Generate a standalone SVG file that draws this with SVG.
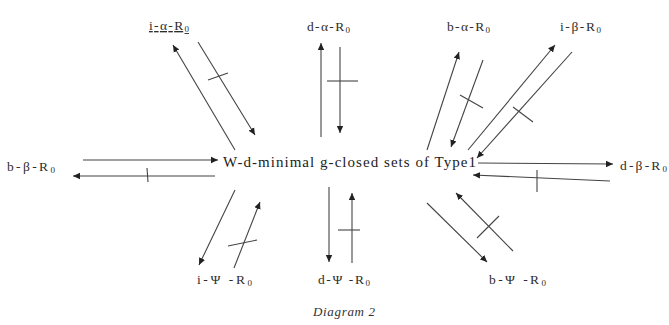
<svg xmlns="http://www.w3.org/2000/svg" width="669" height="325" viewBox="0 0 669 325">
<style>
  .lbl { font-family: "Liberation Serif", "Times New Roman", serif; font-size: 13.5px; fill: #2e2e2e; }
  .main { font-family: "Liberation Serif", "Times New Roman", serif; font-size: 15px; fill: #222; }
  .cap { font-family: "Liberation Serif", "Times New Roman", serif; font-size: 13px; font-style: italic; fill: #333; }
  .sub { font-size: 9px; }
  .c line { stroke: #444; stroke-width: 1.1; fill: none; }
  .c line.a { marker-end: url(#ah); }
</style>
<defs>
  <marker id="ah" markerUnits="userSpaceOnUse" markerWidth="8" markerHeight="8" viewBox="0 0 8 8" refX="7" refY="4" orient="auto">
    <path d="M0,0.8 L7,4 L0,7.2 Z" fill="#222"/>
  </marker>
</defs>
<rect width="669" height="325" fill="#ffffff"/>

<g id="center"><text class="main" x="223" y="167" textLength="253" lengthAdjust="spacing">W-d-minimal g-closed sets of Type1</text></g>
<g id="i-alpha"><text class="lbl" x="149" y="30" textLength="40" lengthAdjust="spacing" text-decoration="underline">i-α-R<tspan class="sub" dy="2">0</tspan></text></g>
<g id="d-alpha"><text class="lbl" x="307" y="31" textLength="43" lengthAdjust="spacing">d-α-R<tspan class="sub" dy="2">0</tspan></text></g>
<g id="b-alpha"><text class="lbl" x="447" y="31" textLength="43" lengthAdjust="spacing">b-α-R<tspan class="sub" dy="2">0</tspan></text></g>
<g id="i-beta"><text class="lbl" x="560" y="31" textLength="41" lengthAdjust="spacing">i-β-R<tspan class="sub" dy="2">0</tspan></text></g>
<g id="b-beta"><text class="lbl" x="7" y="171" textLength="48" lengthAdjust="spacing">b-β-R<tspan class="sub" dy="2">0</tspan></text></g>
<g id="d-beta"><text class="lbl" x="620" y="170" textLength="47" lengthAdjust="spacing">d-β-R<tspan class="sub" dy="2">0</tspan></text></g>
<g id="i-psi"><text class="lbl" x="197" y="284" textLength="55" lengthAdjust="spacing">i-Ψ -R<tspan class="sub" dy="2">0</tspan></text></g>
<g id="d-psi"><text class="lbl" x="318" y="284" textLength="52" lengthAdjust="spacing">d-Ψ -R<tspan class="sub" dy="2">0</tspan></text></g>
<g id="b-psi"><text class="lbl" x="489" y="284" textLength="57" lengthAdjust="spacing">b-Ψ -R<tspan class="sub" dy="2">0</tspan></text></g>
<g id="caption"><text class="cap" x="313" y="316" textLength="62" lengthAdjust="spacing">Diagram 2</text></g>

<g id="connectors" class="c">
  <line class="a" x1="235" y1="150" x2="173" y2="45"/>
  <line class="a" x1="198" y1="42" x2="255" y2="135"/>
  <line x1="208" y1="80" x2="228" y2="73"/>

  <line class="a" x1="321" y1="137" x2="321" y2="43"/>
  <line class="a" x1="340" y1="47" x2="340" y2="133"/>
  <line x1="327" y1="81" x2="358" y2="81"/>

  <line class="a" x1="427" y1="150" x2="459" y2="52"/>
  <line class="a" x1="483" y1="60" x2="451" y2="147"/>
  <line x1="460" y1="95" x2="483" y2="108"/>

  <line class="a" x1="468" y1="150" x2="555" y2="45"/>
  <line class="a" x1="572" y1="52" x2="477" y2="158"/>
  <line x1="513" y1="107" x2="533" y2="122"/>

  <line class="a" x1="478" y1="163" x2="613" y2="164"/>
  <line class="a" x1="610" y1="181" x2="473" y2="175"/>
  <line x1="537" y1="170" x2="537" y2="192"/>

  <line class="a" x1="83" y1="160" x2="218" y2="160"/>
  <line class="a" x1="215" y1="176" x2="73" y2="176"/>
  <line x1="147" y1="168" x2="148" y2="182"/>

  <line class="a" x1="235" y1="190" x2="199" y2="265"/>
  <line class="a" x1="234" y1="268" x2="260" y2="202"/>
  <line x1="228" y1="246" x2="257" y2="240"/>

  <line class="a" x1="329" y1="187" x2="329" y2="262"/>
  <line class="a" x1="352" y1="263" x2="352" y2="193"/>
  <line x1="338" y1="230" x2="360" y2="230"/>

  <line class="a" x1="427" y1="203" x2="487" y2="262"/>
  <line class="a" x1="513" y1="251" x2="456" y2="193"/>
  <line x1="477" y1="238" x2="499" y2="216"/>
</g>
</svg>
